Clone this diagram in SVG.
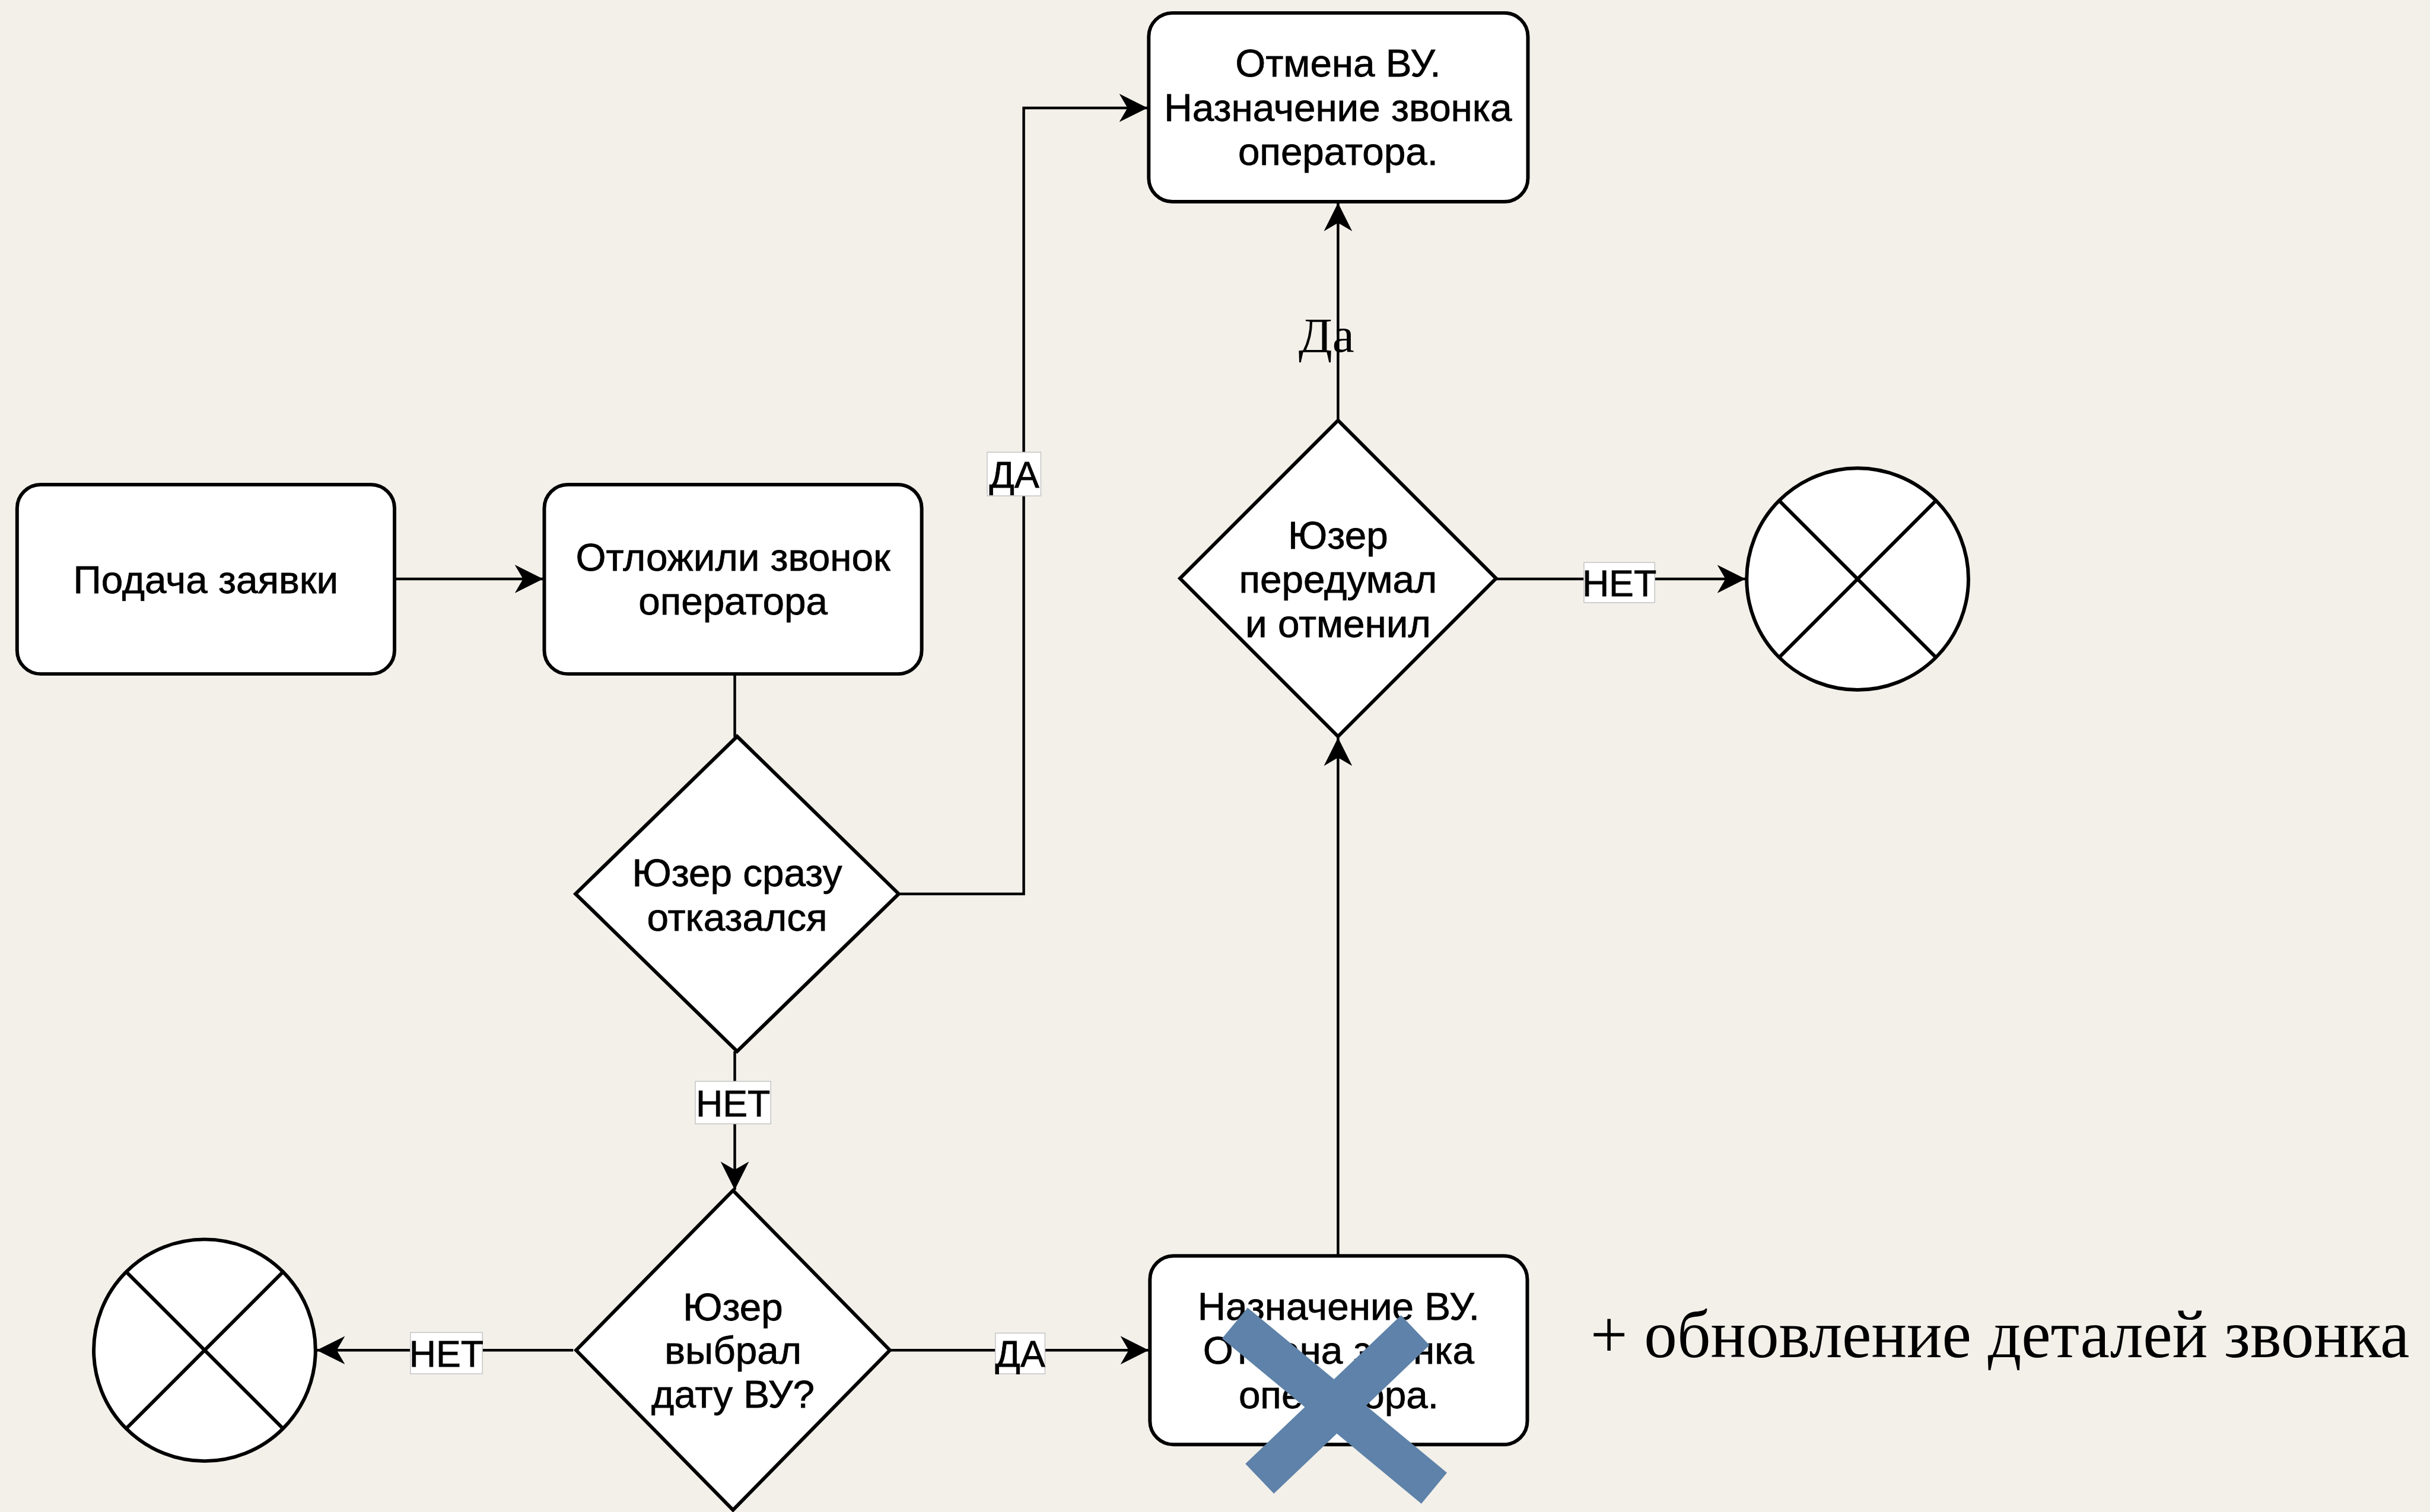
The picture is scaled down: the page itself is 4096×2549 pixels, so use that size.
<svg xmlns="http://www.w3.org/2000/svg" width="4096" height="2549" viewBox="0 0 4096 2549">
<defs>
<style>
.node{fill:#fff;stroke:#000;stroke-width:6}
.t{font-family:"Liberation Sans",Arial,Helvetica,sans-serif;font-size:66px;text-anchor:middle;fill:#000;stroke:#000;stroke-width:0.8}
.edge{fill:none;stroke:#000;stroke-width:4.5}
.lb{fill:#fff;stroke:#c4c4c4;stroke-width:1.5}
.lt{font-family:"Liberation Sans",Arial,Helvetica,sans-serif;font-size:63px;text-anchor:middle;fill:#000;stroke:#000;stroke-width:0.8}
.serif{font-family:"Liberation Serif","Times New Roman",serif;fill:#000}
.xl{stroke:#000;stroke-width:6}
.blue{fill:none;stroke:#5E82A9;stroke-linecap:butt}
</style>
<marker id="arr" markerUnits="userSpaceOnUse" markerWidth="50" markerHeight="50" viewBox="0 0 50 50" refX="48" refY="25" orient="auto">
<path d="M48,25 L0,1 L14,25 L0,49 Z" fill="#000"/>
</marker>
</defs>
<rect x="0" y="0" width="4096" height="2549" fill="#F3F0EA"/>
<g transform="scale(0.994)">
<g id="connectors">
<line class="edge" x1="668" y1="982" x2="921" y2="982" marker-end="url(#arr)"/>
<line class="edge" x1="1246" y1="1143" x2="1246" y2="1250"/>
<polyline class="edge" points="1524,1516 1736,1516 1736,183 1946,183" marker-end="url(#arr)"/>
<line class="edge" x1="1246" y1="1783" x2="1246" y2="2018" marker-end="url(#arr)"/>
<line class="edge" x1="972" y1="2290" x2="537" y2="2290" marker-end="url(#arr)"/>
<line class="edge" x1="1509" y1="2290" x2="1948" y2="2290" marker-end="url(#arr)"/>
<line class="edge" x1="2269" y1="2130" x2="2269" y2="1251" marker-end="url(#arr)"/>
<line class="edge" x1="2269" y1="713" x2="2269" y2="344" marker-end="url(#arr)"/>
<line class="edge" x1="2537" y1="982" x2="2960" y2="982" marker-end="url(#arr)"/>
<g id="lbl-da1"><rect class="lb" x="1674" y="767" width="91" height="74"/><text class="lt" x="1720" y="827">ДА</text></g>
<g id="lbl-net1"><rect class="lb" x="1179" y="1834" width="128" height="72"/><text class="lt" x="1243" y="1893">НЕТ</text></g>
<g id="lbl-net2"><rect class="lb" x="696" y="2260" width="122" height="70"/><text class="lt" x="757" y="2318">НЕТ</text></g>
<g id="lbl-da2"><rect class="lb" x="1688" y="2261" width="84" height="69"/><text class="lt" x="1730" y="2318">ДА</text></g>
<g id="lbl-net3"><rect class="lb" x="2686" y="954" width="120" height="68"/><text class="lt" x="2746" y="1011">НЕТ</text></g>
<text class="serif" x="2202" y="597" font-size="84">Да</text>
</g>
<g id="n-podacha">
<rect class="node" x="29" y="822" width="640" height="321" rx="40" ry="40"/>
<text class="t" x="349" y="1006">Подача заявки</text>
</g>
<g id="n-otlozhili">
<rect class="node" x="923" y="822" width="640" height="321" rx="40" ry="40"/>
<text class="t" x="1243" y="968">Отложили звонок</text>
<text class="t" x="1243" y="1042">оператора</text>
</g>
<g id="n-otmena">
<rect class="node" x="1948" y="22" width="643" height="320" rx="40" ry="40"/>
<text class="t" x="2269" y="130">Отмена ВУ.</text>
<text class="t" x="2269" y="205">Назначение звонка</text>
<text class="t" x="2269" y="280">оператора.</text>
</g>
<g id="d-srazu">
<polygon class="node" points="1250,1249 1524,1516 1250,1783 976,1516"/>
<text class="t" x="1250" y="1503">Юзер сразу</text>
<text class="t" x="1250" y="1578">отказался</text>
</g>
<g id="d-peredumal">
<polygon class="node" points="2269,713 2537,981 2269,1249 2001,981"/>
<text class="t" x="2269" y="931">Юзер</text>
<text class="t" x="2269" y="1005">передумал</text>
<text class="t" x="2269" y="1080">и отменил</text>
</g>
<g id="end1">
<circle class="node" cx="3150" cy="982" r="188" stroke-width="8"/>
<line class="xl" x1="3017" y1="849" x2="3283" y2="1115"/>
<line class="xl" x1="3283" y1="849" x2="3017" y2="1115"/>
</g>
<g id="d-vybral">
<polygon class="node" points="1243,2019 1509,2290 1243,2561 977,2290"/>
<text class="t" x="1243" y="2239">Юзер</text>
<text class="t" x="1243" y="2313">выбрал</text>
<text class="t" x="1243" y="2387">дату ВУ?</text>
</g>
<g id="end2">
<circle class="node" cx="347" cy="2290" r="188" stroke-width="8"/>
<line class="xl" x1="214" y1="2157" x2="480" y2="2423"/>
<line class="xl" x1="480" y1="2157" x2="214" y2="2423"/>
</g>
<g id="n-naznachenie">
<rect class="node" x="1950" y="2130" width="640" height="320" rx="40" ry="40"/>
<text class="t" x="2270" y="2238">Назначение ВУ.</text>
<text class="t" x="2270" y="2313">Отмена звонка</text>
<text class="t" x="2270" y="2388">оператора.</text>
</g>
<g id="crossout">
<line class="blue" x1="2094" y1="2244" x2="2432" y2="2524" stroke-width="68"/>
<line class="blue" x1="2400" y1="2256" x2="2136" y2="2508" stroke-width="70"/>
</g>
<text id="note" class="serif" x="2697" y="2302" font-size="116" textLength="1389" lengthAdjust="spacingAndGlyphs">+ обновление деталей звонка</text>
</g>
</svg>
